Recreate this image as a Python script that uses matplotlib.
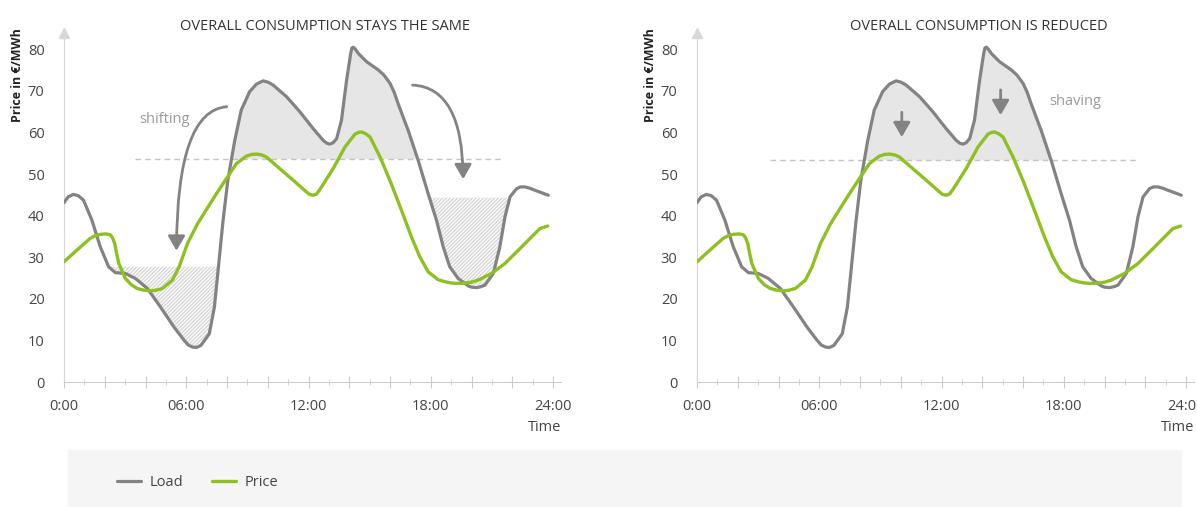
import numpy as np
import matplotlib
matplotlib.use('Agg')
import matplotlib.pyplot as plt
from matplotlib.patches import FancyArrowPatch, Rectangle

plt.rcParams['font.family'] = ['Open Sans', 'DejaVu Sans']
plt.rcParams['hatch.linewidth'] = 1.0

# load curve (hour, value)
load_h = [0, 0.2, 0.46, 0.7, 0.96, 1.37, 1.78, 2.19, 2.52, 3.01, 3.5, 4.09, 4.74, 5.4,
          5.9, 6.1, 6.31, 6.5, 6.72, 7.13, 7.38, 7.58, 7.79, 8.04, 8.38, 8.7, 9.11,
          9.44, 9.77, 10.0, 10.26, 10.92, 11.57, 12.23, 12.72, 12.9, 13.05, 13.2,
          13.38, 13.62, 13.87, 14.07, 14.13, 14.2, 14.3, 14.44, 14.85, 15.43, 15.7,
          16.0, 16.2, 16.39, 16.89, 17.38, 17.87, 18.28, 18.61, 18.93, 19.34, 19.84,
          20.0, 20.25, 20.45, 20.66, 21.07, 21.39, 21.64, 21.89, 22.21, 22.4, 22.62,
          22.85, 23.11, 23.77]
load_v = [43.1, 44.5, 45.1, 44.8, 43.7, 38.9, 32.5, 27.7, 26.3, 26.1, 24.9, 22.5, 18.0, 13.2,
          10.0, 8.9, 8.4, 8.3, 8.8, 11.6, 18.0, 27.7, 38.1, 48.5, 58.1, 65.4, 69.8,
          71.6, 72.4, 72.1, 71.4, 68.6, 65.0, 60.9, 58.1, 57.4, 57.2, 57.5,
          58.5, 63.0, 72.6, 79.0, 80.3, 80.5, 80.0, 79.0, 77.0, 75.0, 73.8,
          71.8, 69.7, 67.0, 60.5, 53.3, 45.3, 38.9, 32.5, 27.7, 24.9, 23.1,
          22.8, 22.7, 22.9, 23.3, 26.1, 32.5, 39.7, 44.5, 46.5, 46.9, 46.9,
          46.6, 46.1, 44.9]

# price curve
price_h = [0, 0.63, 1.28, 1.5, 1.78, 2.05, 2.27, 2.38, 2.49, 2.58, 2.69, 3.01, 3.3,
           3.59, 3.9, 4.25, 4.55, 4.83, 5.32, 5.65, 6.06, 6.56, 7.38, 7.97, 8.46,
           8.95, 9.2, 9.44, 9.7, 9.93, 10.59, 11.25, 11.9, 12.05, 12.23, 12.4, 12.64,
           13.21, 13.79, 14.28, 14.45, 14.61, 14.8, 15.02, 15.51, 16.05, 16.56,
           17.05, 17.46, 17.87, 18.36, 18.7, 19.02, 19.35, 19.67, 20.0, 20.33,
           20.98, 21.64, 22.3, 22.95, 23.36, 23.74]
price_v = [28.9, 31.7, 34.5, 35.1, 35.5, 35.6, 35.4, 34.7, 33.3, 31.0, 28.5, 24.9, 23.4,
           22.5, 22.1, 21.9, 22.1, 22.5, 24.5, 27.7, 33.3, 38.1, 44.5, 48.9, 52.5,
           54.3, 54.7, 54.8, 54.6, 54.1, 51.3, 48.5, 45.7, 45.1, 44.9, 45.2, 46.9,
           51.3, 56.5, 59.6, 60.0, 60.1, 59.7, 58.9, 54.1, 47.8, 41.3,
           34.9, 30.1, 26.5, 24.6, 24.1, 23.8, 23.7, 23.8, 24.0, 24.5,
           26.1, 28.5, 31.7, 34.9, 36.9, 37.5]

tick_hours = list(range(0, 25, 2))
tick_labels = ['0:00', '', '', '06:00', '', '', '12:00', '', '', '18:00', '', '', '24:00']

titles = ['OVERALL CONSUMPTION STAYS THE SAME', 'OVERALL CONSUMPTION IS REDUCED']
avg_level = [53.7, 53.4]
avg_span = [(3.46, 21.56), (3.6, 21.7)]

LOAD_C = '#838383'
PRICE_C = '#8dc021'
TEXT_C = '#444444'
AXIS_C = '#cccccc'
HATCH_C = '#d6d6d6'

lh = np.array(load_h)
lv = np.array(load_v)

fig = plt.figure(figsize=(11.97, 5.07), dpi=100)
fig.add_artist(Rectangle((68 / 1197, 0), (1181 - 68) / 1197, 57 / 507,
                         transform=fig.transFigure, color='#f5f5f5', zorder=0))

axes = [fig.add_axes([64 / 1197, 0.2465, 0.4152, 0.6884]),
        fig.add_axes([697 / 1197, 0.2465, 0.4152, 0.6884])]

for i, ax in enumerate(axes):
    ax.set_xlim(0, 24.39)
    ax.set_ylim(0, 83.9)
    for s in ['top', 'right']:
        ax.spines[s].set_visible(False)
    ax.spines['left'].set_color('#d8d8d8')
    ax.spines['bottom'].set_color(AXIS_C)
    ax.plot(0, 1, marker='^', ms=7, color='#d8d8d8', transform=ax.transAxes, clip_on=False)

    ax.set_yticks(range(0, 81, 10))
    ax.tick_params(axis='y', length=0, pad=14, labelsize=10.5, labelcolor=TEXT_C)
    ax.set_xticks(tick_hours)
    ax.set_xticklabels(tick_labels)
    ax.set_xticks(range(0, 25), minor=True)
    ax.tick_params(axis='x', which='major', direction='inout', length=9, color=AXIS_C,
                   pad=8, labelsize=10.5, labelcolor=TEXT_C)
    ax.tick_params(axis='x', which='minor', direction='inout', length=5, color=AXIS_C)
    ax.text(1.0, -0.11, 'Time', transform=ax.transAxes, ha='right', va='top',
            fontsize=10.5, color=TEXT_C)
    ax.set_ylabel('Price in €/MWh', fontsize=9, fontweight='bold', color='#222222')
    ax.yaxis.set_label_coords(-40 / 497, 0.88)

    lvl = avg_level[i]
    ax.fill_between(lh, lv, lvl, where=(lv > lvl) & (lh > 7) & (lh < 18),
                    interpolate=True, color='#e6e6e6', lw=0, zorder=1)
    ax.plot(avg_span[i], [lvl, lvl], ls=(0, (4, 3)), lw=1, color='#c4c4c4', zorder=2)

    ax.plot(load_h, load_v, color=LOAD_C, lw=2.3, solid_capstyle='round',
            solid_joinstyle='round', zorder=4, label='Load')
    ax.plot(price_h, price_v, color=PRICE_C, lw=2.4, solid_capstyle='round',
            solid_joinstyle='round', zorder=5, label='Price')

    fig.text((325 if i == 0 else 979) / 1197, 1 - 26 / 507, titles[i],
             ha='center', va='center', fontsize=10.5, color='#333333')

ax = axes[0]
ax.fill_between(lh, lv, 27.7, where=(lv < 27.7) & (lh > 2.4) & (lh < 8),
                interpolate=True, facecolor='none', edgecolor=HATCH_C,
                hatch='/' * 9, lw=0, zorder=1)
ax.fill_between(lh, lv, 44.3, where=(lv < 44.3) & (lh > 15),
                interpolate=True, facecolor='none', edgecolor=HATCH_C,
                hatch='/' * 9, lw=0, zorder=1)
for start, end in [((8.12, 66.2), (5.52, 30.9)), ((16.97, 71.4), (19.59, 48.1))]:
    ax.add_patch(FancyArrowPatch(start, end, connectionstyle='angle3,angleA=0,angleB=90',
                                 arrowstyle='-|>,head_length=0.55,head_width=0.32',
                                 mutation_scale=16, color=LOAD_C, lw=2, zorder=6))
ax.text(4.94, 63.1, 'shifting', ha='center', va='center', fontsize=10.5, color='#9a9a9a')

ax = axes[1]
for x, y0, y1 in [(10.05, 65.5, 58.2), (14.9, 70.9, 63.5)]:
    ax.add_patch(FancyArrowPatch((x, y0), (x, y1),
                                 arrowstyle='-|>,head_length=0.55,head_width=0.32',
                                 mutation_scale=16, color=LOAD_C, lw=2, zorder=6))
ax.text(18.55, 67.5, 'shaving', ha='center', va='center', fontsize=10.5, color='#9a9a9a')

handles, labels = axes[0].get_legend_handles_labels()
fig.legend(handles, labels, loc='center left', bbox_to_anchor=(110 / 1197, 1 - 483 / 507),
           frameon=False, ncol=2, borderpad=0, handlelength=1.6, handletextpad=0.6,
           columnspacing=2.0, fontsize=10.5, labelcolor=TEXT_C)

fig.savefig('out.png', dpi=100)
